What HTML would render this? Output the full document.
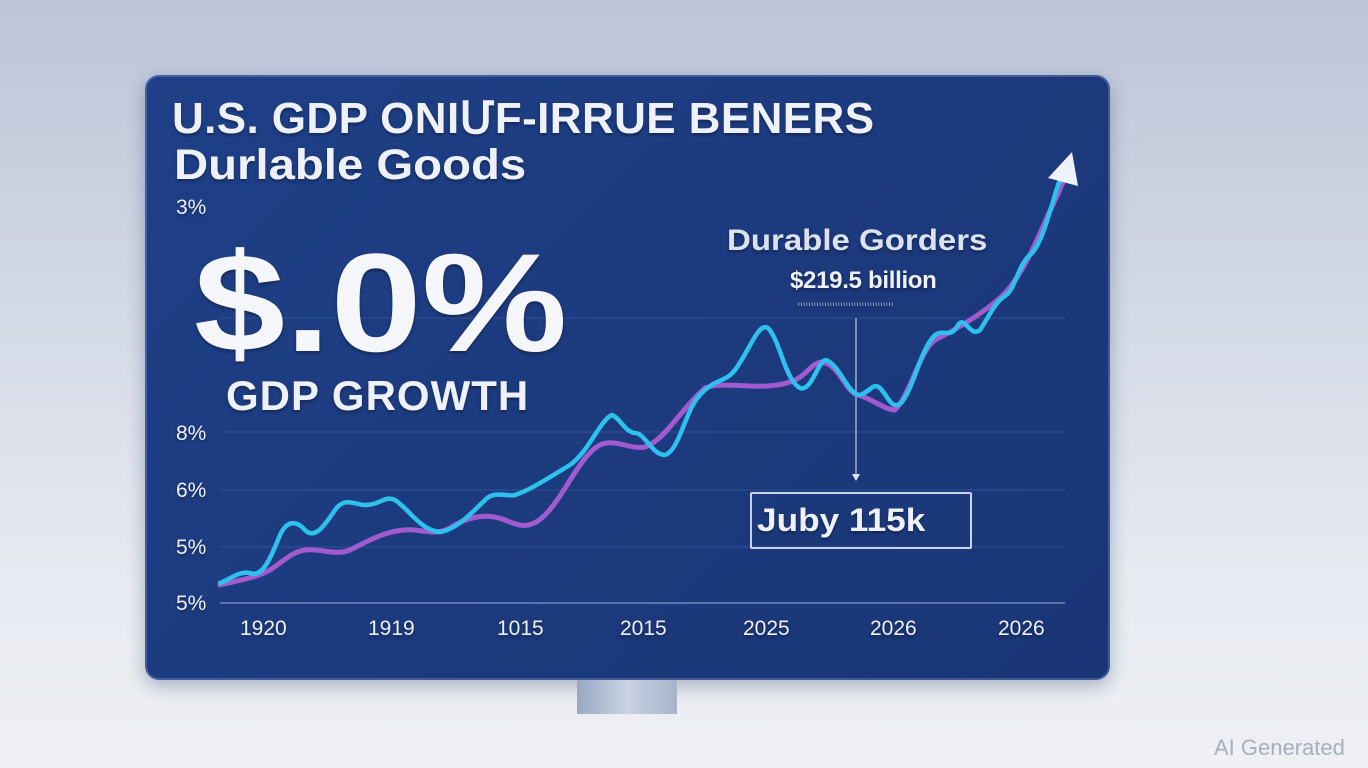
<!DOCTYPE html>
<html><head><meta charset="utf-8"><style>
html,body{margin:0;padding:0;width:1368px;height:768px;overflow:hidden;font-family:"Liberation Sans",sans-serif;}
body{background:linear-gradient(180deg,#bcc5d8 0%,#d3d9e6 40%,#e7eaf1 75%,#eef0f4 100%);position:relative;}
.panel{position:absolute;left:145px;top:75px;width:965px;height:605px;border-radius:14px;background:linear-gradient(135deg,#1f4088 0%,#1c3a7e 50%,#1a3677 100%);box-shadow:0 6px 18px rgba(40,60,100,.35),inset 0 0 0 2px rgba(180,200,240,.25);}
.stand{position:absolute;left:577px;top:680px;width:100px;height:34px;background:linear-gradient(90deg,#9aa8c4,#c9d2e3 50%,#a7b3cb);}
.t{position:absolute;color:#eef1f7;white-space:nowrap;text-shadow:0 2px 3px rgba(0,0,0,.35);transform-origin:0 0;}
</style></head><body>
<div class="panel"></div>
<div class="stand"></div>
<svg width="1368" height="768" style="position:absolute;left:0;top:0">
<g stroke="#3a5aa0" stroke-width="1" opacity=".7">
<line x1="220" y1="318" x2="1065" y2="318"/>
<line x1="220" y1="432" x2="1065" y2="432"/>
<line x1="220" y1="490" x2="1065" y2="490"/>
<line x1="220" y1="547" x2="1065" y2="547"/>
</g>
<line x1="220" y1="603" x2="1065" y2="603" stroke="#6f88c0" stroke-width="1.5"/>
<line x1="856" y1="318" x2="856" y2="478" stroke="#dfe6f5" stroke-width="1"/>
<polygon points="852,474 860,474 856,481" fill="#dfe6f5"/>
<g fill="none" stroke-linecap="round" stroke-linejoin="round">
<path d="M220,585 C240,580 255,578 270,570 C285,560 292,552 305,550 C320,548 335,556 350,550 C370,540 390,528 415,530 C430,532 438,534 450,528 C465,518 485,512 505,520 C520,526 530,530 545,515 C565,495 580,455 600,445 C615,438 630,450 645,447 C665,440 680,410 705,388 C725,380 760,392 790,382 C805,378 812,362 822,362 C840,365 845,392 858,395 C875,400 885,410 895,410 C910,395 920,350 935,340 C955,330 980,315 1000,298 C1020,280 1035,245 1048,215 C1058,195 1064,180 1068,170" stroke="#b05fd8" stroke-width="5" opacity=".9"/>
<path d="M220,583 C232,578 240,571 250,573 C262,578 270,560 280,535 C288,518 298,522 305,530 C315,540 325,525 335,510 C345,496 355,505 365,505 C380,505 385,495 395,500 C410,510 420,530 440,532 C455,530 470,515 485,500 C495,490 505,497 515,495 C530,490 545,480 570,465 C590,450 600,420 612,415 C620,418 625,432 635,433 C645,433 652,455 665,455 C680,450 685,410 700,395 C715,378 725,383 735,370 C750,350 758,322 768,328 C780,340 785,380 800,388 C812,392 818,360 826,360 C840,365 848,395 860,395 C870,392 873,382 880,388 C888,396 892,412 902,402 C915,385 920,350 935,335 C945,328 950,340 958,325 C965,315 970,338 980,330 C990,315 995,302 1005,296 C1015,290 1018,265 1030,255 C1042,245 1050,210 1058,185 L1064,172" stroke="#2ec1ee" stroke-width="4.5"/>
</g>
<polygon points="1072,152 1078,186 1048,178" fill="#eef1f8"/>
</svg>
<div class="t" style="left:172px;top:93px;font-size:44px;font-weight:bold;letter-spacing:0.4px;">U.S. GDP ONIՄF-IRRUE BENERS</div>
<div class="t" style="left:174px;top:141px;font-size:43px;font-weight:bold;transform:scaleX(1.1);">Durlable Goods</div>
<div class="t" style="left:176px;top:196px;font-size:21px;">3%</div>
<div class="t" style="left:194px;top:222px;font-size:140px;font-weight:bold;transform:scaleX(1.17);color:#f4f6fa;">$.0%</div>
<div class="t" style="left:226px;top:372px;font-size:42px;font-weight:bold;letter-spacing:1px;">GDP GROWTH</div>
<div class="t" style="left:727px;top:224px;font-size:30px;font-weight:bold;transform:scaleX(1.1);color:#dde3ee;">Durable Gorders</div>
<div class="t" style="left:790px;top:267px;font-size:24px;font-weight:bold;letter-spacing:-0.3px;">$219.5 billion</div>
<div class="t" style="left:798px;top:302px;font-size:6px;letter-spacing:1px;">ıııııııııııııııııııııııııııııııııııı</div>
<div style="position:absolute;left:750px;top:492px;width:218px;height:53px;border:2px solid #c8d2e8;border-radius:2px;"></div>
<div class="t" style="left:757px;top:502px;font-size:32px;font-weight:bold;transform:scaleX(1.1);">Juby 115k</div>
<div class="t" style="left:176px;top:422px;font-size:21px;">8%</div>
<div class="t" style="left:176px;top:479px;font-size:21px;">6%</div>
<div class="t" style="left:176px;top:536px;font-size:21px;">5%</div>
<div class="t" style="left:176px;top:592px;font-size:21px;">5%</div>
<div class="t" style="left:240px;top:617px;font-size:21px;">1920</div>
<div class="t" style="left:368px;top:617px;font-size:21px;">1919</div>
<div class="t" style="left:497px;top:617px;font-size:21px;">1015</div>
<div class="t" style="left:620px;top:617px;font-size:21px;">2015</div>
<div class="t" style="left:743px;top:617px;font-size:21px;">2025</div>
<div class="t" style="left:870px;top:617px;font-size:21px;">2026</div>
<div class="t" style="left:998px;top:617px;font-size:21px;">2026</div>
<div style="position:absolute;left:1214px;top:735px;font-size:22px;color:#a9afba;">AI Generated</div>
</body></html>
